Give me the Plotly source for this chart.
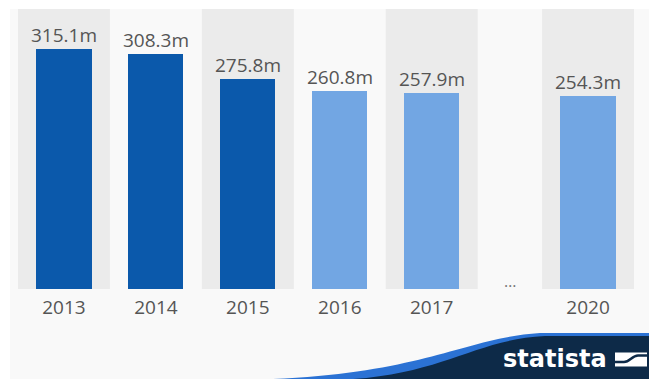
import plotly.graph_objects as go

# Data
years = ["2013", "2014", "2015", "2016", "2017", "2020"]
values = [315.1, 308.3, 275.8, 260.8, 257.9, 254.3]

# Styling
bar_colors = ["#0b59ab", "#0b59ab", "#0b59ab", "#72a6e3", "#72a6e3", "#72a6e3"]
label_color = "#555555"
band_color = "#ebebeb"
bg_color = "#f9f9f9"
navy = "#0d2a48"
stripe_blue = "#2b72d4"
FONT = "Open Sans"

W, H = 649, 379
ML, MR, MT, MB = 18, 15, 9, 90
PW, PH = W - ML - MR, H - MT - MB

# Slots along the x axis: the gap between 2017 and 2020 is a narrower "…" slot
slot_labels = ["2013", "2014", "2015", "2016", "2017", "…", "2020"]
slot_widths = [1, 1, 1, 1, 1, 0.7, 1]
slot_edges = [0]
for w in slot_widths:
    slot_edges.append(slot_edges[-1] + w)
slot_centers = [(a + b) / 2 for a, b in zip(slot_edges[:-1], slot_edges[1:])]
center_of = dict(zip(slot_labels, slot_centers))
bar_x = [center_of[y] for y in years]

Y_MAX = 368


def px(x):
    return (x - ML) / PW


def py(y):
    return (H - MB - y) / PH


fig = go.Figure()
fig.add_trace(go.Bar(
    x=bar_x, y=values, width=0.6,
    marker=dict(color=bar_colors, line=dict(width=0)),
    hoverinfo="skip",
))

annotations = []
for x, v in zip(bar_x, values):
    annotations.append(dict(
        x=x, y=v, xref="x", yref="y", text=f"{v:.1f}m", showarrow=False,
        yanchor="bottom", yshift=-1,
        font=dict(family=FONT, size=19, color=label_color),
    ))

annotations.append(dict(
    x=center_of["…"], y=py(294), xref="x", yref="paper", text="…", showarrow=False,
    font=dict(family=FONT, size=16, color="#777777"),
))

annotations.append(dict(
    x=px(554.5), y=py(359), xref="paper", yref="paper", text="<b>statista</b>",
    showarrow=False, xanchor="center", yanchor="middle",
    font=dict(family="DejaVu Sans", size=24, color="#ffffff"),
))

shapes = []
# alternating column bands
for i, (a, b) in enumerate(zip(slot_edges[:-1], slot_edges[1:])):
    if i % 2 == 0:
        shapes.append(dict(type="rect", xref="x", yref="paper", x0=a, x1=b, y0=0, y1=1,
                           fillcolor=band_color, line=dict(width=0), layer="below"))

# white margins at the left and top edges
shapes.append(dict(type="rect", xref="paper", yref="paper", x0=px(0), x1=px(10), y0=py(H), y1=py(0),
                   fillcolor="#ffffff", line=dict(width=0), layer="above"))
shapes.append(dict(type="rect", xref="paper", yref="paper", x0=px(0), x1=px(W), y0=py(9), y1=py(0),
                   fillcolor="#ffffff", line=dict(width=0), layer="above"))


def path(cmds):
    # one SVG command per point group, converted from pixels to paper fractions
    out = []
    for cmd, pts in cmds:
        coords = " ".join(f"{px(x):.5f},{py(y):.5f}" for x, y in pts)
        out.append(f"{cmd}{coords}")
    return " ".join(out)


# footer wave: blue edge stripe under a navy band
stripe = path([("M", [(235, H + 1)]), ("C", [(420, H - 1), (460, 338), (540, 333)]),
               ("L", [(W + 1, 333)]), ("L", [(W + 1, H + 1)]), ("Z", [])])
navy_band = path([("M", [(330, H + 1)]), ("C", [(440, H - 1), (470, 340), (545, 336)]),
                  ("L", [(W + 1, 336)]), ("L", [(W + 1, H + 1)]), ("Z", [])])
shapes.append(dict(type="path", xref="paper", yref="paper", path=stripe,
                   fillcolor=stripe_blue, line=dict(width=0), layer="above"))
shapes.append(dict(type="path", xref="paper", yref="paper", path=navy_band,
                   fillcolor=navy, line=dict(width=0), layer="above"))

# logo mark: white box split by a dark S-shaped line
logo_box = path([("M", [(615, 352.5)]), ("L", [(647, 352.5)]), ("L", [(647, 366.5)]),
                 ("L", [(615, 366.5)]), ("Z", [])])
logo_cut = path([("M", [(613, 362)]), ("L", [(624, 362)]),
                 ("C", [(630, 362), (632, 355.5), (638, 355.5)]),
                 ("L", [(649, 355.5)])])
shapes.append(dict(type="path", xref="paper", yref="paper", path=logo_box,
                   fillcolor="#ffffff", line=dict(width=0), layer="above"))
shapes.append(dict(type="path", xref="paper", yref="paper", path=logo_cut,
                   fillcolor="rgba(0,0,0,0)", line=dict(color=navy, width=2.5), layer="above"))

fig.update_layout(
    width=W, height=H,
    margin=dict(l=ML, r=MR, t=MT, b=MB, pad=0),
    paper_bgcolor=bg_color, plot_bgcolor=bg_color,
    showlegend=False,
    bargap=0,
    xaxis=dict(range=[0, slot_edges[-1]], tickmode="array",
               tickvals=bar_x, ticktext=years, showgrid=False, zeroline=False,
               showline=False, ticks="", fixedrange=True, ticklabelstandoff=5,
               tickfont=dict(family=FONT, size=19, color=label_color)),
    yaxis=dict(range=[0, Y_MAX], visible=False, fixedrange=True),
    annotations=annotations,
    shapes=shapes,
)

fig.write_html("out.html", config={"displayModeBar": False})
